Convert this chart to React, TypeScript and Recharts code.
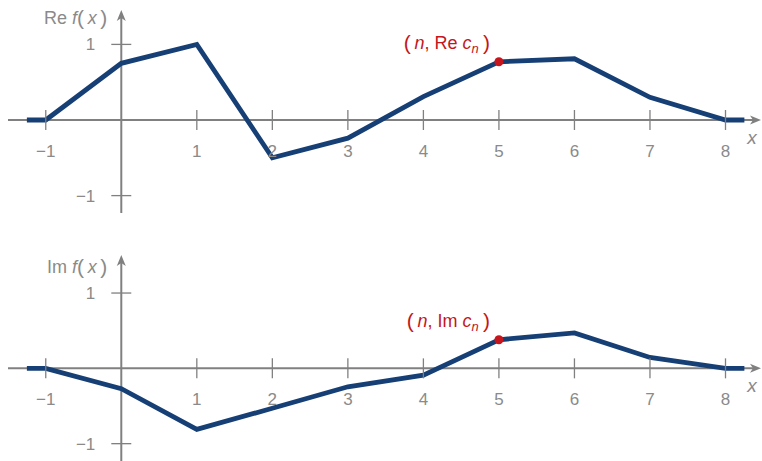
import { LineChart, Line, XAxis, YAxis, ReferenceLine, ReferenceDot } from 'recharts'

// sample positions n and the piecewise-linear values at them
const xs = [-1.25, -1, 0, 1, 2, 3, 4, 5, 6, 7, 8, 8.25]
const reValues = [0, 0, 0.75, 1.0, -0.5, -0.24, 0.31, 0.77, 0.81, 0.3, 0, 0]
const imValues = [0, 0, -0.27, -0.81, -0.53, -0.245, -0.09, 0.38, 0.47, 0.145, 0, 0]

const xTicks = [-1, 1, 2, 3, 4, 5, 6, 7, 8]
const xTickLabels = ['\u22121', '1', '2', '3', '4', '5', '6', '7', '8']
const yTicks = [-1, 1]
const yTickLabels = ['\u22121', '1']
const markN = 5
const titleY = 1.27

const X_DOMAIN: [number, number] = [-1.5, 8.47]
const AXIS = '#808080'
const TEXT = '#8a8a8a'
const NAVY = '#163f75'
const RED = '#c4161c'
const FONT = '"Liberation Sans", Arial, Helvetica, sans-serif'
const THIN = '\u2009'

const arrowLine = (vertical: boolean) => (p: any) => {
  const { x1, y1, x2, y2 } = p
  if (vertical) {
    const top = Math.min(y1, y2)
    const bot = Math.max(y1, y2)
    return (
      <g>
        <line x1={x1} y1={top + 4} x2={x1} y2={bot} stroke={AXIS} strokeWidth={2} />
        <path d={`M${x1},${top} L${x1 - 4.5},${top + 11} L${x1},${top + 8} L${x1 + 4.5},${top + 11} Z`} fill={AXIS} />
      </g>
    )
  }
  const left = Math.min(x1, x2)
  const right = Math.max(x1, x2)
  return (
    <g>
      <line x1={left} y1={y1} x2={right - 4} y2={y1} stroke={AXIS} strokeWidth={2} />
      <path d={`M${right},${y1} L${right - 11},${y1 - 4.5} L${right - 8},${y1} L${right - 11},${y1 + 4.5} Z`} fill={AXIS} />
    </g>
  )
}

const xTickShape = (label: string) => (p: any) => (
  <g>
    <line x1={p.cx} y1={p.cy - 10} x2={p.cx} y2={p.cy + 10} stroke={AXIS} strokeWidth={1.3} />
    <text x={p.cx} y={p.cy + 37} textAnchor="middle" fontSize={17} fill={TEXT} fontFamily={FONT}>{label}</text>
  </g>
)

const yTickShape = (label: string) => (p: any) => (
  <g>
    <line x1={p.cx - 10} y1={p.cy} x2={p.cx + 10} y2={p.cy} stroke={AXIS} strokeWidth={1.3} />
    <text x={p.cx - 26} y={p.cy + 6} textAnchor="end" fontSize={17} fill={TEXT} fontFamily={FONT}>{label}</text>
  </g>
)

const xNameShape = (p: any) => (
  <text x={p.cx - 9} y={p.cy + 24} textAnchor="middle" fontSize={19} fontStyle="italic" fill={TEXT} fontFamily={FONT}>x</text>
)

const titleShape = (part: string) => (p: any) => (
  <text x={p.cx - 14} y={p.cy} textAnchor="end" fontSize={18} fill={TEXT} fontFamily={FONT}>
    {part} <tspan fontStyle="italic">f</tspan>
    <tspan fontSize={21} dy={1}>(</tspan>
    <tspan fontStyle="italic" dy={-1}>{THIN}x{THIN}</tspan>
    <tspan fontSize={21} dy={1}>)</tspan>
  </text>
)

const markShape = (part: string) => (p: any) => (
  <g>
    <circle cx={p.cx} cy={p.cy} r={4.5} fill={RED} />
    <text x={p.cx - 9} y={p.cy - 13} textAnchor="end" fontSize={18} fill={RED} fontFamily={FONT}>
      <tspan fontSize={21} dy={1}>(</tspan>
      <tspan fontStyle="italic" dy={-1}>{THIN}n</tspan>, {part} <tspan fontStyle="italic">c</tspan>
      <tspan fontStyle="italic" fontSize={13} dy={4}>n</tspan>
      <tspan fontSize={21} dy={-3}>{THIN})</tspan>
    </text>
  </g>
)

function Panel({ values, yDomain, part, top, height, margin }: {
  values: number[]
  yDomain: [number, number]
  part: string
  top: number
  height: number
  margin: { top: number; right: number; bottom: number; left: number }
}) {
  const data = xs.map((x, i) => ({ x, y: values[i] }))
  const markY = values[xs.indexOf(markN)]
  return (
    <div style={{ position: 'absolute', left: 0, top }}>
      <LineChart width={762} height={height} data={data} margin={margin}>
        <XAxis type="number" dataKey="x" domain={X_DOMAIN} hide allowDataOverflow />
        <YAxis type="number" domain={yDomain} hide allowDataOverflow />
        <ReferenceLine y={0} shape={arrowLine(false)} />
        <ReferenceLine x={0} shape={arrowLine(true)} />
        {xTicks.map((t, i) => (
          <ReferenceDot key={'xt' + t} x={t} y={0} shape={xTickShape(xTickLabels[i])} />
        ))}
        {yTicks.map((t, i) => (
          <ReferenceDot key={'yt' + t} x={0} y={t} shape={yTickShape(yTickLabels[i])} />
        ))}
        <ReferenceDot x={X_DOMAIN[1]} y={0} shape={xNameShape} />
        <ReferenceDot x={0} y={titleY} shape={titleShape(part)} />
        <Line type="linear" dataKey="y" stroke={NAVY} strokeWidth={4.8} dot={false}
          strokeLinejoin="miter" strokeLinecap="butt" isAnimationActive={false} />
        <ReferenceDot x={markN} y={markY} shape={markShape(part)} />
      </LineChart>
    </div>
  )
}

export default function App() {
  return (
    <div style={{ position: 'absolute', left: 0, top: 0, width: 762, height: 461, overflow: 'hidden', background: '#fff' }}>
      <Panel values={reValues} yDomain={[-1.23, 1.455]} part="Re" top={0} height={225}
        margin={{ top: 10, right: 1, bottom: 12, left: 8 }} />
      <Panel values={imValues} yDomain={[-1.23, 1.505]} part="Im" top={240} height={221}
        margin={{ top: 15, right: 1, bottom: 0, left: 8 }} />
    </div>
  )
}
